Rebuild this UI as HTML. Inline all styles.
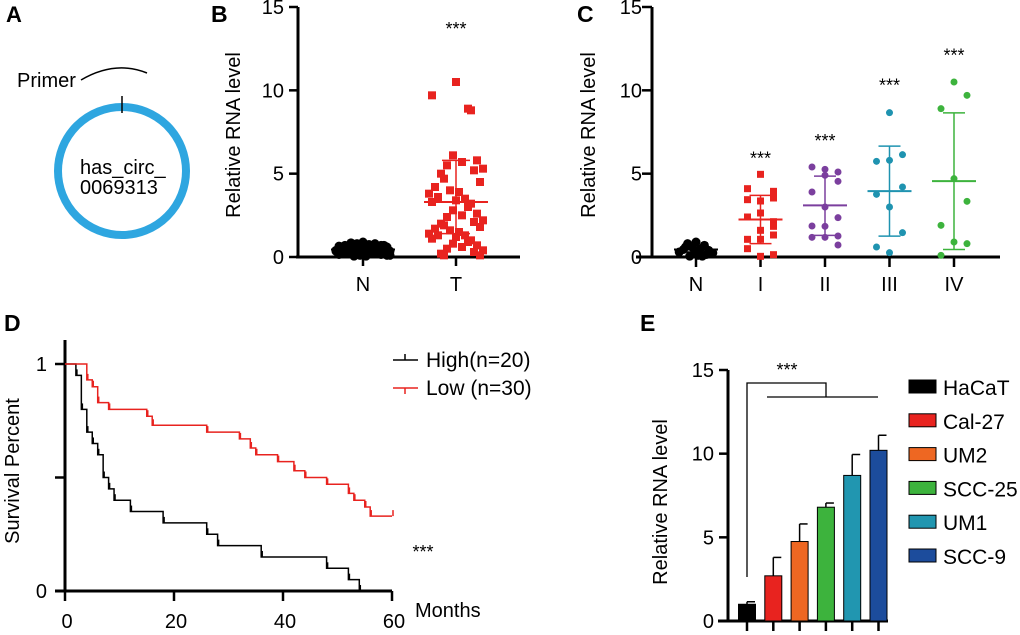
<!DOCTYPE html>
<html><head><meta charset="utf-8"><style>
html,body{margin:0;padding:0;background:#fff;}
svg{display:block;font-family:"Liberation Sans",Arial,sans-serif;}
</style></head><body>
<svg id="fig" width="1020" height="635" viewBox="0 0 1020 635" xmlns="http://www.w3.org/2000/svg">
<g>
<text x="6" y="22" font-size="22" font-weight="bold">A</text>
<text x="17" y="87" font-size="20">Primer</text>
<path d="M81,80 Q115,60 147,73" fill="none" stroke="#000" stroke-width="1.5"/>
<circle cx="122" cy="171" r="64" fill="none" stroke="#2ea6e0" stroke-width="8"/>
<line x1="122" y1="96" x2="122" y2="113" stroke="#000" stroke-width="1.5"/>
<text x="80" y="174" font-size="20">has_circ_</text>
<text x="80" y="194" font-size="20">0069313</text>
</g>
<g id="pb"></g>
<g id="pc"></g>
<g id="pd"></g>
<g id="pe"></g>
</svg>
<script>
// ---------- data ----------
const bCategories = ["N","T"];
const bNValues = [0.9,0.85,0.8,0.8,0.75,0.7,0.7,0.65,0.6,0.6,0.55,0.5,0.5,0.45,0.45,0.4,0.4,0.35,0.35,0.3,0.3,0.25,0.25,0.2,0.2,0.15,0.15,0.1,0.1,0.05,0.05,0.5,0.6,0.3,0.2,0.7,0.4,0.1,0.8,0.35];
const bTValues = [10.5,9.7,8.8,8.9,6.1,5.8,5.7,5.5,5.3,5.2,5.0,4.7,4.5,4.2,4.0,3.9,3.8,3.6,3.5,3.4,3.3,3.2,3.0,2.8,2.6,2.5,2.4,2.2,2.1,2.0,1.9,1.8,1.7,1.6,1.5,1.4,1.3,1.3,1.2,1.1,1.0,0.9,0.8,0.7,0.6,0.5,0.4,0.3,0.2,0.1,0.1];
const bTStats = [3.3, 1.4, 5.8];
const bNStats = [0.45, 0.2, 0.7];
const yTicks = [0,5,10,15];

const cCategories = ["N","I","II","III","IV"];
const cN = [0.9,0.8,0.7,0.6,0.5,0.45,0.4,0.3,0.25,0.2,0.1,0.05,0.05,0.6,0.15];
const cI = [4.96,3.94,4.1,3.36,3.54,3.44,2.64,2.12,2.4,1.6,1.84,1.06,1.06,1.32,0.5,0.04,0.14];
const cII = [5.26,5.1,5.4,4.9,4.54,3.9,3.0,2.36,1.86,1.84,1.26,1.18,1.18,0.72];
const cIII = [8.66,6.14,5.74,5.8,4.2,3.76,3.0,1.46,0.6,0.26];
const cIV = [10.5,9.7,8.9,4.7,3.34,1.9,0.9,0.8,0.1];
const cMeans = [0.45,2.25,3.1,3.95,4.55];
const cLow = [0.3,0.8,1.3,1.25,0.45];
const cHigh = [0.6,3.7,4.85,6.65,8.65];
const cStars = [null,5.9,6.95,10.3,12.1];

const dHighTimes = [0,2,3,4,5,6,7,8,9,12,18,26,28,36,48,52,54];
const dHighSurv  = [1,0.95,0.8,0.7,0.65,0.6,0.5,0.45,0.4,0.35,0.3,0.25,0.2,0.15,0.1,0.05,0];
const dLowTimes = [0,4,5,6,8,15,16,26,32,34,35,39,42,44,48,52,53,55,56,60];
const dLowSurv  = [1,0.93,0.9,0.83,0.8,0.77,0.73,0.7,0.67,0.63,0.6,0.57,0.53,0.5,0.47,0.43,0.4,0.37,0.33,0.33];
const dXTicks = [0,20,40,60];
const dYTicks = [0,0.5,1];
const dYLabels = ["0","","1"];

const eCategories = ["HaCaT","Cal-27","UM2","SCC-25","UM1","SCC-9"];
const eValues = [1.0,2.7,4.75,6.8,8.7,10.2];
const eErrors = [0.15,1.1,1.05,0.25,1.25,0.9];
const eColors = ["#000000","#e8231f","#ee6722","#3db33d","#2196b0","#1c4c9c"];

const FS=20;
const NS="http://www.w3.org/2000/svg";
function mk(parent,tag,attrs,text){const e=document.createElementNS(NS,tag);for(const k in attrs)e.setAttribute(k,attrs[k]);if(text!==undefined)e.textContent=text;parent.appendChild(e);return e;}
const jit=[0,-12,12,-6,6,-18,18,-24,24,-3,3,-9,9,-15,15,-21,21,-27,27];

// ---------- Panel B ----------
(function(){
const g=document.getElementById('pb');
const x0=298,x1=520,yb=257,yt=7;
const ys=v=>yb-(v/15)*(yb-yt);
const xs=i=>[363,456][i];
let t=mk(g,'text',{x:211,y:22,'font-size':23,'font-weight':'bold'},'B');


let a=mk(g,'line',{x1:x0,y1:yt,x2:x0,y2:yb,stroke:'#000','stroke-width':3});

a=mk(g,'line',{x1:x0-2,y1:yb,x2:x1,y2:yb,stroke:'#000','stroke-width':3});

yTicks.forEach(v=>{
 let l=mk(g,'line',{x1:x0-9,y1:ys(v),x2:x0,y2:ys(v),stroke:'#000','stroke-width':2.5});
 
 let tx=mk(g,'text',{x:x0-14,y:ys(v)+7,'font-size':FS,'text-anchor':'end'},String(v));
 
});
bCategories.forEach((c,i)=>{
 let l=mk(g,'line',{x1:xs(i),y1:yb,x2:xs(i),y2:yb+9,stroke:'#000','stroke-width':2.5});
 
 let tx=mk(g,'text',{x:xs(i),y:291,'font-size':FS,'text-anchor':'middle'},c);
 
});
let yt2=mk(g,'text',{x:0,y:0,'font-size':FS,'text-anchor':'middle',transform:'translate(240,135) rotate(-90)'},'Relative RNA level');

bNValues.forEach((v,i)=>{
 let c=mk(g,'circle',{cx:xs(0)+jit[i%jit.length]*1.0,cy:ys(v),r:4.5,fill:'#000'});
 
});
bTValues.forEach((v,i)=>{
 let r=mk(g,'rect',{x:xs(1)+jit[(i*7)%jit.length]-4,y:ys(v)-4,width:8,height:8,fill:'#e8231f'});
 
});
[[bNStats,0,'#000'],[bTStats,1,'#e8231f']].forEach(([s,i,col])=>{
 let m=mk(g,'line',{x1:xs(i)-32,x2:xs(i)+32,y1:ys(s[0]),y2:ys(s[0]),stroke:col,'stroke-width':2});
 
 let v=mk(g,'line',{x1:xs(i),x2:xs(i),y1:ys(s[1]),y2:ys(s[2]),stroke:col,'stroke-width':1.5});
 
 [1,2].forEach(k=>{let e=mk(g,'line',{x1:xs(i)-14,x2:xs(i)+14,y1:ys(s[k]),y2:ys(s[k]),stroke:col,'stroke-width':1.5});
 });
});
let st=mk(g,'text',{x:xs(1),y:35,'font-size':18,'text-anchor':'middle'},'***');

})();

// ---------- Panel C ----------
(function(){
const g=document.getElementById('pc');
const x0=652,x1=1000,yb=257,yt=7;
const ys=v=>yb-(v/15)*(yb-yt);
const xs=i=>696+i*64.5;
const groups=[cN,cI,cII,cIII,cIV];
const cols=['#000','#e8231f','#7b3f9e','#1f93b0','#3db33d'];
let t=mk(g,'text',{x:577,y:22,'font-size':23,'font-weight':'bold'},'C');

let a=mk(g,'line',{x1:x0,y1:yt,x2:x0,y2:yb,stroke:'#000','stroke-width':3});

a=mk(g,'line',{x1:x0-16,y1:yb,x2:x1,y2:yb,stroke:'#000','stroke-width':3});

yTicks.forEach(v=>{
 let l=mk(g,'line',{x1:x0-10,y1:ys(v),x2:x0,y2:ys(v),stroke:'#000','stroke-width':2.5});
 
 let tx=mk(g,'text',{x:x0-10,y:ys(v)+7,'font-size':FS,'text-anchor':'end'},String(v));
 
});
cCategories.forEach((c,i)=>{
 let l=mk(g,'line',{x1:xs(i),y1:yb,x2:xs(i),y2:yb+10,stroke:'#000','stroke-width':2.5});
 
 let tx=mk(g,'text',{x:xs(i),y:291,'font-size':FS,'text-anchor':'middle'},c);
 
});
let yt2=mk(g,'text',{x:0,y:0,'font-size':FS,'text-anchor':'middle',transform:'translate(595,135) rotate(-90)'},'Relative RNA level');

const cj=[0,-13,13];
groups.forEach((arr,gi)=>{
 arr.forEach((v,i)=>{
  const dx = gi===0 ? jit[i%jit.length]*0.7 : cj[(i*2)%3];
  let p;
  if(gi===1){p=mk(g,'rect',{x:xs(gi)+dx-3.5,y:ys(v)-3.5,width:7,height:7,fill:cols[gi]});}
  else{p=mk(g,'circle',{cx:xs(gi)+dx,cy:ys(v),r:gi===0?4.5:3.5,fill:cols[gi]});}
  
  
 });
 let m=mk(g,'line',{x1:xs(gi)-22,x2:xs(gi)+22,y1:ys(cMeans[gi]),y2:ys(cMeans[gi]),stroke:cols[gi],'stroke-width':2});
 
 let v=mk(g,'line',{x1:xs(gi),x2:xs(gi),y1:ys(cLow[gi]),y2:ys(cHigh[gi]),stroke:cols[gi],'stroke-width':1.5});
 
 [cLow[gi],cHigh[gi]].forEach(y=>{let e=mk(g,'line',{x1:xs(gi)-11,x2:xs(gi)+11,y1:ys(y),y2:ys(y),stroke:cols[gi],'stroke-width':1.5});
 });
 if(cStars[gi]!==null){let s=mk(g,'text',{x:xs(gi),y:ys(cStars[gi])+6,'font-size':18,'text-anchor':'middle'},'***');
 }
});
})();

// ---------- Panel D ----------
(function(){
const g=document.getElementById('pd');
const x0=65,x60=392,yb=591,y1=364;
const xs=m=>x0+(m/60)*(x60-x0);
const ys=v=>yb-v*(yb-y1);
let t=mk(g,'text',{x:4,y:331,'font-size':23,'font-weight':'bold'},'D');

let a=mk(g,'line',{x1:x0,y1:340,x2:x0,y2:yb,stroke:'#000','stroke-width':3});

a=mk(g,'line',{x1:x0-10,y1:yb,x2:x60,y2:yb,stroke:'#000','stroke-width':3});

dYTicks.forEach((v,i)=>{
 let l=mk(g,'line',{x1:x0-10,y1:ys(v),x2:x0,y2:ys(v),stroke:'#000','stroke-width':2.5});
 
 if(dYLabels[i]){let tx=mk(g,'text',{x:x0-18,y:ys(v)+7,'font-size':FS,'text-anchor':'end'},dYLabels[i]);
 }
});
dXTicks.forEach(v=>{
 let l=mk(g,'line',{x1:xs(v),y1:yb,x2:xs(v),y2:yb+10,stroke:'#000','stroke-width':2.5});
 
 let tx=mk(g,'text',{x:xs(v)+2,y:628,'font-size':FS,'text-anchor':'middle'},String(v));
 
});
let mo=mk(g,'text',{x:415,y:617,'font-size':FS},'Months');

let yt2=mk(g,'text',{x:0,y:0,'font-size':FS,'text-anchor':'middle',transform:'translate(19,471) rotate(-90)'},'Survival Percent');

function step(times,surv,col,name){
 let d='M'+xs(times[0])+','+ys(surv[0]);
 for(let i=1;i<times.length;i++){d+=' H'+xs(times[i])+' V'+ys(surv[i]);}
 let p=mk(g,'path',{d:d,fill:'none',stroke:col,'stroke-width':1.5});
 
 for(let i=1;i<times.length;i++){let c=mk(g,'line',{x1:xs(times[i])+1,x2:xs(times[i])+1,y1:ys(surv[i]),y2:ys(surv[i])-6,stroke:col,'stroke-width':1.5});
 }
}
step(dHighTimes,dHighSurv,'#000','d-high-curve');
step(dLowTimes,dLowSurv,'#e8231f','d-low-curve');
[['High(n=20)','#000',360],['Low (n=30)','#e8231f',388]].forEach(([lab,col,y])=>{
 let l=mk(g,'line',{x1:393,x2:418,y1:y,y2:y,stroke:col,'stroke-width':1.5});
 
 let l2=mk(g,'line',{x1:405,x2:405,y1:y,y2:y+(col==='#000'?-6:6),stroke:col,'stroke-width':1.5});
 
 let tx=mk(g,'text',{x:426,y:y+7,'font-size':21},lab);
 
});
let s=mk(g,'text',{x:423,y:558,'font-size':18,'text-anchor':'middle'},'***');

})();

// ---------- Panel E ----------
(function(){
const g=document.getElementById('pe');
const x0=728,yb=621,yt=370;
const ys=v=>yb-(v/15)*(yb-yt);
const xs=i=>747+i*26.3;
let t=mk(g,'text',{x:640,y:331,'font-size':23,'font-weight':'bold'},'E');

let a=mk(g,'line',{x1:x0,y1:yt,x2:x0,y2:yb,stroke:'#000','stroke-width':3});

a=mk(g,'line',{x1:718,y1:yb,x2:888,y2:yb,stroke:'#000','stroke-width':3});

yTicks.forEach(v=>{
 let l=mk(g,'line',{x1:x0-9,y1:ys(v),x2:x0,y2:ys(v),stroke:'#000','stroke-width':2.5});
 
 let tx=mk(g,'text',{x:x0-14,y:ys(v)+7,'font-size':FS,'text-anchor':'end'},String(v));
 
});
let yt2=mk(g,'text',{x:0,y:0,'font-size':FS,'text-anchor':'middle',transform:'translate(667,502) rotate(-90)'},'Relative RNA level');

eValues.forEach((v,i)=>{
 let e=mk(g,'line',{x1:xs(i),x2:xs(i),y1:ys(v),y2:ys(v+eErrors[i]),stroke:'#000','stroke-width':1.5});
 
 let c=mk(g,'line',{x1:xs(i),x2:xs(i)+8,y1:ys(v+eErrors[i]),y2:ys(v+eErrors[i]),stroke:'#000','stroke-width':1.5});
 
 let r=mk(g,'rect',{x:xs(i)-8.5,y:ys(v),width:17,height:yb-ys(v),fill:eColors[i],stroke:'#000','stroke-width':1});
 
 let tk=mk(g,'line',{x1:xs(i),x2:xs(i),y1:yb,y2:yb+10,stroke:'#000','stroke-width':2.5});
 
 let sw=mk(g,'rect',{x:909,y:380+i*33.8,width:27,height:13,fill:eColors[i],stroke:'#000','stroke-width':1});
 
 let tx=mk(g,'text',{x:943,y:395+i*33.8,'font-size':21},eCategories[i]);
 
});
let br=mk(g,'path',{d:'M747,577 V383 H826 V397 M767,397 H878',fill:'none',stroke:'#000','stroke-width':1.3});

let s=mk(g,'text',{x:787,y:376,'font-size':18,'text-anchor':'middle'},'***');

})();
</script>
</body></html>
